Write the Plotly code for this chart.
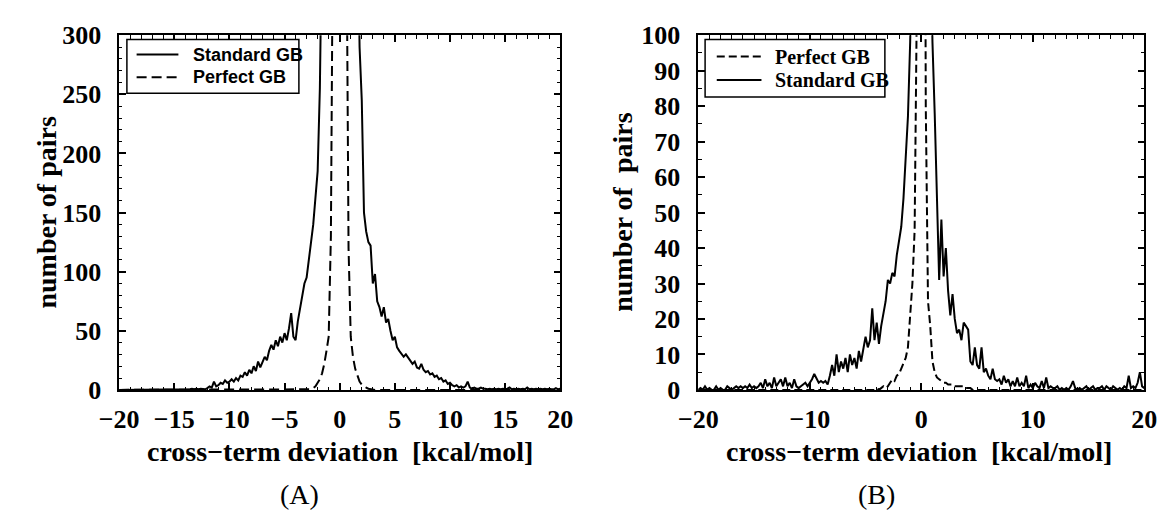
import plotly.graph_objects as go

# ---------------- data (histogram counts, bins of 0.2 kcal/mol from -20 to 20) ----------------
BIN_START = -20.0
BIN_WIDTH = 0.2

# Panel A
std_gb_A = [
    0, 0, 0, 0, 0, 0, 0, 0, 0, 0,                 # -20.0 .. -18.2
    0, 0, 0, 0, 0, 0, 0, 0, 0, 0,                 # -18.0 .. -16.2
    0, 0, 0, 0.5, 0, 0, 0.5, 0, 0.5, 0,           # -16.0 .. -14.2
    0.5, 0, 0.5, 1, 0.5, 1, 0.5, 1, 1, 0.5,       # -14.0 .. -12.2
    1.5, 3, 2, 7, 3, 4, 6, 5, 8, 6,               # -12.0 .. -10.2
    7, 9, 7, 10, 8, 12, 11, 15, 12, 17,           # -10.0 .. -8.2
    14, 20, 16, 24, 19, 23, 28, 25, 33, 38,       # -8.0 .. -6.2
    34, 42, 37, 45, 40, 48, 42, 52, 65, 45,       # -6.0 .. -4.2
    42, 58, 70, 80, 90, 95, 112, 125, 140, 160,   # -4.0 .. -2.2
    185, 255, 380, 600, 800, 1000, 1200, 1300, 1400, 1450,   # -2.0 .. -0.2
    1500, 1450, 1400, 1300, 1200, 1000, 800, 600, 420, 290,  # 0.0 .. 1.8
    245, 150, 134, 125, 122, 90, 98, 75, 70, 62,  # 2.0 .. 3.8
    70, 57, 60, 50, 42, 45, 36, 33, 30, 28,       # 4.0 .. 5.8
    30, 27, 25, 22, 24, 19, 18, 22, 17, 15,       # 6.0 .. 7.8
    16, 13, 14, 11, 12, 9, 10, 7, 8, 5,           # 8.0 .. 9.8
    6, 4, 3, 4, 2, 3, 2, 3, 7, 2,                 # 10.0 .. 11.8
    1, 2, 1, 1, 2, 1, 1, 0.5, 1, 0.5,             # 12.0 .. 13.8
    1, 0.5, 1, 0.5, 1, 0.5, 1, 2, 0.5, 1,         # 14.0 .. 15.8
    0.5, 1, 0.5, 1, 0.5, 2, 0.5, 1, 0.5, 1,       # 16.0 .. 17.8
    0.5, 1, 0.5, 1, 0.5, 1, 0.5, 0.5, 1.5, 0.5,   # 18.0 .. 19.8
    1,                                            # 20.0
]

perf_gb_A = [
    0, 0, 0, 0, 0, 0, 0, 0, 0, 0,                 # -20.0 .. -18.2
    0, 0, 0, 0, 0, 0, 0, 0, 0, 0,                 # -18.0 .. -16.2
    0, 0, 0, 0, 0, 0, 0, 0, 0, 0,                 # -16.0 .. -14.2
    0, 0, 0, 0, 0, 0, 0, 0, 0, 0,                 # -14.0 .. -12.2
    0, 0, 0, 0, 0, 0, 0, 0, 0, 0,                 # -12.0 .. -10.2
    0, 0, 0, 0, 0, 0, 0, 0, 0, 0,                 # -10.0 .. -8.2
    0, 0, 0, 0, 0, 0, 0, 0, 0, 0,                 # -8.0 .. -6.2
    0, 0, 0, 0, 0, 0, 0, 0, 0, 0,                 # -6.0 .. -4.2
    0, 0, 0, 0, 0, 0, 0, 0.5, 1.5, 3,             # -4.0 .. -2.2
    6, 9, 14, 22, 33, 45, 130, 420, 1500, 2500,   # -2.0 .. -0.2
    3000, 2500, 1500, 420, 120, 45, 28, 18, 12, 7,  # 0.0 .. 1.8
    4.5, 3, 2, 1, 0.5, 0, 0, 0, 0, 0,             # 2.0 .. 3.8
    0, 0, 0, 0, 0, 0, 0, 0, 0, 0,                 # 4.0 .. 5.8
    0, 0, 0, 0, 0, 0, 0, 0, 0, 0,                 # 6.0 .. 7.8
    0, 0, 0, 0, 0, 0, 0, 0, 0, 0,                 # 8.0 .. 9.8
    0, 0, 0, 0, 0, 0, 0, 0, 0, 0,                 # 10.0 .. 11.8
    0, 0, 0, 0, 0, 0, 0, 0, 0, 0,                 # 12.0 .. 13.8
    0, 0, 0, 0, 0, 0, 0, 0, 0, 0,                 # 14.0 .. 15.8
    0, 0, 0, 0, 0, 0, 0, 0, 0, 0,                 # 16.0 .. 17.8
    0, 0, 0, 0, 0, 0, 0, 0, 0, 0,                 # 18.0 .. 19.8
    0,                                            # 20.0
]

# Panel B
perf_gb_B = [
    0, 0, 0, 0, 0, 0, 0, 0, 0, 0,                 # -20.0 .. -18.2
    0, 0, 0, 0, 0, 0, 0, 0, 0, 0,                 # -18.0 .. -16.2
    0, 0, 0, 0, 0, 0, 0, 0, 0, 0,                 # -16.0 .. -14.2
    0, 0, 0, 0, 0, 0, 0, 0, 0, 0,                 # -14.0 .. -12.2
    0, 0, 0, 0, 0, 0, 0, 0, 0, 0,                 # -12.0 .. -10.2
    0, 0, 0, 0, 0, 0, 0, 0, 0, 0,                 # -10.0 .. -8.2
    0, 0, 0, 0, 0, 0, 0, 0, 0, 0,                 # -8.0 .. -6.2
    0, 0, 0, 0, 0, 0, 0, 0, 0, 0,                 # -6.0 .. -4.2
    0.5, 0, 0.5, 1, 0.5, 1, 2, 3, 2.5, 4,         # -4.0 .. -2.2
    4.5, 6, 7, 9, 12, 20, 30, 45, 110, 400,       # -2.0 .. -0.2
    600, 300, 80, 25, 18, 8, 5, 3.5, 3, 2.5,      # 0.0 .. 1.8
    2, 2, 1.5, 1.5, 1.5, 1, 1, 1, 1, 1,           # 2.0 .. 3.8
    0.5, 0.5, 0.5, 0, 0, 0, 0, 0, 0, 0,           # 4.0 .. 5.8
    0, 0, 0, 0, 0, 0, 0, 0, 0, 0,                 # 6.0 .. 7.8
    0, 0, 0, 0, 0, 0, 0, 0, 0, 0,                 # 8.0 .. 9.8
    0, 0, 0, 0, 0, 0, 0, 0, 0, 0,                 # 10.0 .. 11.8
    0, 0, 0, 0, 0, 0, 0, 0, 0, 0,                 # 12.0 .. 13.8
    0, 0, 0, 0, 0, 0, 0, 0, 0, 0,                 # 14.0 .. 15.8
    0, 0, 0, 0, 0, 0, 0, 0, 0, 0,                 # 16.0 .. 17.8
    0, 0, 0, 0, 0, 0, 0, 0, 0, 0,                 # 18.0 .. 19.8
    0,                                            # 20.0
]

std_gb_B = [
    0, 0.5, 0, 1, 0, 0.5, 0, 0, 1, 0,             # -20.0 .. -18.2
    0.5, 0, 0, 1, 0.5, 0, 0.5, 1, 0.5, 1,         # -18.0 .. -16.2
    0.5, 1, 0.5, 1.5, 0.5, 1, 0.5, 1, 2, 0.5,     # -16.0 .. -14.2
    3, 1, 2, 0.5, 3.5, 1, 2, 3, 1, 3.5,           # -14.0 .. -12.2
    1, 2, 0.5, 3, 1, 0.5, 1, 1.5, 2, 1,           # -12.0 .. -10.2
    2, 3, 4.5, 3, 2, 2.5, 2, 2.5, 1.5, 4,         # -10.0 .. -8.2
    7, 4, 10, 5, 8, 6, 9, 5, 10, 7,               # -8.0 .. -6.2
    9, 6, 11, 8, 12, 15, 12, 14, 23, 14,          # -6.0 .. -4.2
    19, 13, 18, 22, 25, 31, 30, 33, 32, 38,       # -4.0 .. -2.2
    42, 46, 54, 64, 77, 98, 130, 170, 210, 240,   # -2.0 .. -0.2
    250, 240, 210, 170, 130, 98, 78, 55, 31, 48,  # 0.0 .. 1.8
    32, 40, 28, 21, 27, 20, 16, 17, 14, 19,       # 2.0 .. 3.8
    18, 17, 8, 7, 12, 7, 6, 12, 5, 6,             # 4.0 .. 5.8
    4, 3, 6, 3, 2.5, 3, 1.5, 4, 2, 3,             # 6.0 .. 7.8
    1, 2.5, 1, 3.5, 1, 2, 1, 4, 0.5, 1.5,         # 8.0 .. 9.8
    0.5, 2, 1, 0.5, 2.5, 0.5, 3.5, 0.5, 1, 0.5,   # 10.0 .. 11.8
    0.5, 1, 0, 0.5, 0, 0.5, 0, 1, 2.5, 0.5,       # 12.0 .. 13.8
    0, 0.5, 0, 0.5, 1, 0, 0.5, 1, 0, 0.5,         # 14.0 .. 15.8
    0.5, 1, 0, 1, 0.5, 0, 1, 0.5, 0, 0.5,         # 16.0 .. 17.8
    0, 1, 0.5, 4, 0.5, 1, 0.5, 2, 5, 1,           # 18.0 .. 19.8
    0.5,                                          # 20.0
]

x_ticks_A = [-20, -15, -10, -5, 0, 5, 10, 15, 20]
y_ticks_A = [0, 50, 100, 150, 200, 250, 300]
x_ticks_B = [-20, -10, 0, 10, 20]
y_ticks_B = [0, 10, 20, 30, 40, 50, 60, 70, 80, 90, 100]

x_title = "cross−term deviation&nbsp; [kcal/mol]"
y_title_A = "number of pairs"
y_title_B = "number of&nbsp; pairs"
panel_labels = ["(A)", "(B)"]

# ---------------- layout helpers ----------------
W, H = 1169, 522


def fx(p):
    return p / W


def fy(p):
    return 1 - p / H


bins = [round(BIN_START + BIN_WIDTH * i, 1) for i in range(len(std_gb_A))]

SERIF = "Liberation Serif, Times New Roman, serif"
SANS = "Liberation Sans, Arial, sans-serif"

fig = go.Figure()

fig.add_trace(go.Scatter(x=bins, y=std_gb_A, mode="lines", name="Standard GB",
                         line=dict(color="black", width=2), xaxis="x", yaxis="y",
                         showlegend=False))
fig.add_trace(go.Scatter(x=bins, y=perf_gb_A, mode="lines", name="Perfect GB",
                         line=dict(color="black", width=2, dash="10px,5px"), xaxis="x", yaxis="y",
                         showlegend=False))
fig.add_trace(go.Scatter(x=bins, y=perf_gb_B, mode="lines", name="Perfect GB",
                         line=dict(color="black", width=2, dash="8px,4px"), xaxis="x2", yaxis="y2",
                         showlegend=False))
fig.add_trace(go.Scatter(x=bins, y=std_gb_B, mode="lines", name="Standard GB",
                         line=dict(color="black", width=2), xaxis="x2", yaxis="y2",
                         showlegend=False))

tickfont = dict(family=SERIF, size=26, color="black", weight="bold")

common = dict(showline=True, linecolor="black", linewidth=1.5, mirror="allticks",
              ticks="inside", ticklen=7, tickwidth=1.5, tickcolor="black",
              showgrid=False, zeroline=False, tickfont=tickfont)

ydom = [fy(398), fy(22.5)]
minor_style = dict(ticks="inside", ticklen=3.5, tickwidth=1, tickcolor="black", tick0=0)

fig.update_layout(
    width=W, height=H,
    margin=dict(l=0, r=0, t=0, b=0),
    paper_bgcolor="white", plot_bgcolor="white",
    xaxis=dict(domain=[fx(102), fx(556)], range=[-20, 20], tickmode="array", tickvals=x_ticks_A,
               minor=dict(dtick=1, **minor_style), anchor="y", ticklabelstandoff=5, **common),
    yaxis=dict(domain=ydom, range=[0, 300], tickmode="array", tickvals=y_ticks_A,
               minor=dict(dtick=10, **minor_style), anchor="x", ticklabelstandoff=11, **common),
    xaxis2=dict(domain=[fx(698), fx(1157)], range=[-20, 20], tickmode="array", tickvals=x_ticks_B,
                minor=dict(dtick=1, **minor_style), anchor="y2", ticklabelstandoff=5, **common),
    yaxis2=dict(domain=ydom, range=[0, 100], tickmode="array", tickvals=y_ticks_B,
                minor=dict(dtick=5, **minor_style), anchor="x2", ticklabelstandoff=11, **common),
)

titlefont = dict(family=SERIF, size=28, color="black", weight="bold")
labelfont = dict(family=SERIF, size=28, color="black")

ann = [
    dict(text=x_title, x=fx(329), y=fy(463), font=titlefont),
    dict(text=x_title, x=fx(925), y=fy(463), font=titlefont),
    dict(text=y_title_A, x=fx(27), y=fy(210), font=titlefont, textangle=-90),
    dict(text=y_title_B, x=fx(620), y=fy(210), font=titlefont, textangle=-90),
    dict(text=panel_labels[0], x=fx(288), y=fy(509), font=labelfont),
    dict(text=panel_labels[1], x=fx(881), y=fy(509), font=labelfont),
    # legend texts
    dict(text="Standard GB", x=fx(176), y=fy(43), xanchor="left",
         font=dict(family=SANS, size=18, color="black", weight="bold")),
    dict(text="Perfect GB", x=fx(176), y=fy(67), xanchor="left",
         font=dict(family=SANS, size=18, color="black", weight="bold")),
    dict(text="Perfect GB", x=fx(775), y=fy(45), xanchor="left",
         font=dict(family=SERIF, size=20, color="black", weight="bold")),
    dict(text="Standard GB", x=fx(775), y=fy(70), xanchor="left",
         font=dict(family=SERIF, size=20, color="black", weight="bold")),
]
for a in ann:
    a.setdefault("xanchor", "center")
    a.update(xref="paper", yref="paper", yanchor="middle", showarrow=False)
fig.update_layout(annotations=ann)

shapes = [
    # legend boxes
    dict(type="rect", x0=fx(110), x1=fx(287), y0=fy(84), y1=fy(27),
         line=dict(color="black", width=1.5), fillcolor="white"),
    dict(type="rect", x0=fx(705), x1=fx(890), y0=fy(88), y1=fy(27),
         line=dict(color="black", width=1.5), fillcolor="white"),
    # legend samples
    dict(type="line", x0=fx(120), x1=fx(163), y0=fy(43), y1=fy(43),
         line=dict(color="black", width=2)),
    dict(type="line", x0=fx(120), x1=fx(163), y0=fy(67), y1=fy(67),
         line=dict(color="black", width=2, dash="10px,5px")),
    dict(type="line", x0=fx(717), x1=fx(763), y0=fy(45), y1=fy(45),
         line=dict(color="black", width=2, dash="8px,4px")),
    dict(type="line", x0=fx(717), x1=fx(763), y0=fy(70), y1=fy(70),
         line=dict(color="black", width=2)),
]
for s in shapes:
    s.update(xref="paper", yref="paper", layer="above")
fig.update_layout(shapes=shapes)

fig.write_html("out.html")
